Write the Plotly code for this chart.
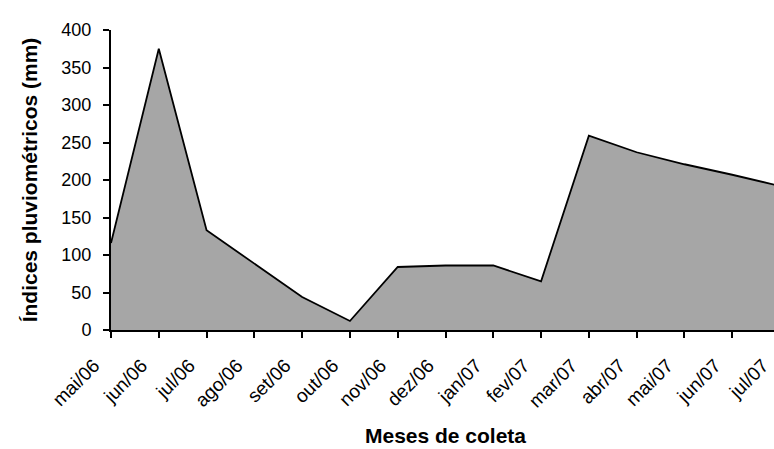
import plotly.graph_objects as go

months = ["mai/06", "jun/06", "jul/06", "ago/06", "set/06", "out/06", "nov/06",
          "dez/06", "jan/07", "fev/07", "mar/07", "abr/07", "mai/07", "jun/07", "jul/07"]
rain_mm = [116, 375, 133, 89, 44, 12, 84, 86, 86, 65, 259, 237, 221, 207, 192]

font_family = "Arial, Liberation Sans, sans-serif"

fig = go.Figure()
fig.add_trace(go.Scatter(
    x=months, y=rain_mm, mode="lines", fill="tozeroy",
    fillcolor="#a6a6a6", line=dict(color="black", width=1.8),
    hoverinfo="x+y", showlegend=False,
))

fig.update_layout(
    width=790, height=449,
    margin=dict(l=111, r=10, t=30, b=119),
    paper_bgcolor="white", plot_bgcolor="white",
    font=dict(family=font_family, color="black"),
    xaxis=dict(
        type="category", range=[0, 14], automargin=False,
        showline=True, linecolor="black", linewidth=2,
        ticks="outside", ticklen=6, tickwidth=2, tickcolor="black",
        tickangle=-45, tickfont=dict(size=19, family=font_family),
        ticklabelstandoff=9, ticklabelshift=-17,
        showgrid=False, zeroline=False,
        title=dict(text="<b>Meses de coleta</b>", font=dict(size=21, family=font_family), standoff=18),
    ),
    yaxis=dict(
        range=[0, 400], tickvals=[0, 50, 100, 150, 200, 250, 300, 350, 400],
        automargin=False,
        showline=True, linecolor="black", linewidth=2,
        ticks="outside", ticklen=6, tickwidth=2, tickcolor="black",
        tickfont=dict(size=18, family=font_family),
        ticklabelstandoff=8,
        showgrid=False, zeroline=False,
        title=dict(text="<b>Índices pluviométricos (mm)</b>", font=dict(size=21, family=font_family), standoff=18),
    ),
)

fig.write_html("out.html", config={"displayModeBar": False},
               post_script="document.body.style.margin='0';document.body.style.overflow='hidden';")
